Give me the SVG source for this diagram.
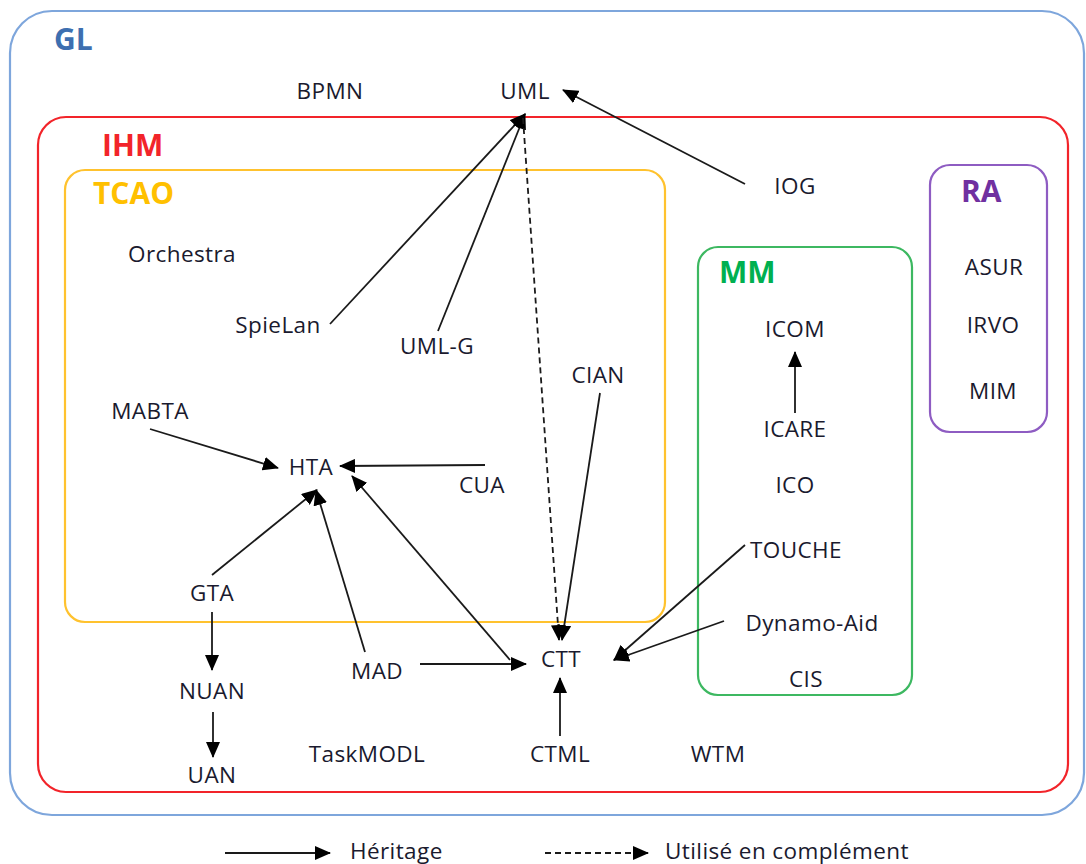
<svg xmlns="http://www.w3.org/2000/svg" width="1086" height="864" viewBox="0 0 1086 864">
<style>
  text { font-family: "Open Sans", "Liberation Sans", sans-serif; font-size: 22.5px; letter-spacing: 0.4px; fill: #1a1a2e; }
  .n { text-anchor: middle; }
  .title { font-weight: bold; font-size: 30px; letter-spacing: 0; }
  .box { fill: none; stroke-width: 2.2; }
  .edge { stroke: #1a1a1a; stroke-width: 1.8; fill: none; marker-end: url(#ah); }
  .dash { stroke-dasharray: 6 4; }
</style>
<defs>
  <marker id="ah" markerUnits="userSpaceOnUse" markerWidth="16" markerHeight="14" refX="15" refY="7" orient="auto">
    <path d="M0,0 L16,7 L0,14 Z" fill="#000"/>
  </marker>
</defs>
<rect width="1086" height="864" fill="#fff"/>

<g id="GL">
  <rect class="box" x="10" y="11" width="1074" height="804" rx="42" stroke="#7EA6DC"/>
  <text class="title" x="54" y="50" style="fill:#3D6FB0">GL</text>
</g>
<g id="IHM">
  <rect class="box" x="38" y="117" width="1030" height="675" rx="28" stroke="#F2242A"/>
  <text class="title" x="102" y="156" style="fill:#F2242A">IHM</text>
</g>
<g id="TCAO">
  <rect class="box" x="65" y="170" width="600" height="452" rx="20" stroke="#FFC22E"/>
  <text class="title" x="93" y="204" style="fill:#FFC000">TCAO</text>
</g>
<g id="MM">
  <rect class="box" x="698" y="247" width="214" height="448" rx="20" stroke="#3DB861"/>
  <text class="title" x="719" y="283" style="fill:#00B050">MM</text>
</g>
<g id="RA">
  <rect class="box" x="930" y="165" width="117" height="267" rx="20" stroke="#8E5CC2"/>
  <text class="title" x="961" y="202" style="fill:#7030A0">RA</text>
</g>

<g id="BPMN"><text class="n" x="330" y="99">BPMN</text></g>
<g id="UML"><text class="n" x="525" y="99">UML</text></g>
<g id="IOG"><text class="n" x="795" y="194">IOG</text></g>
<g id="Orchestra"><text class="n" x="182" y="262">Orchestra</text></g>
<g id="SpieLan"><text class="n" x="278" y="333">SpieLan</text></g>
<g id="UML-G"><text class="n" x="437" y="354">UML-G</text></g>
<g id="CIAN"><text class="n" x="598" y="383">CIAN</text></g>
<g id="MABTA"><text class="n" x="150" y="419">MABTA</text></g>
<g id="HTA"><text class="n" x="311" y="475">HTA</text></g>
<g id="CUA"><text class="n" x="482" y="493">CUA</text></g>
<g id="GTA"><text class="n" x="212" y="601">GTA</text></g>
<g id="NUAN"><text class="n" x="212" y="699">NUAN</text></g>
<g id="UAN"><text class="n" x="212" y="783">UAN</text></g>
<g id="MAD"><text class="n" x="377" y="679">MAD</text></g>
<g id="TaskMODL"><text class="n" x="367" y="762">TaskMODL</text></g>
<g id="CTT"><text class="n" x="561" y="667">CTT</text></g>
<g id="CTML"><text class="n" x="560" y="762">CTML</text></g>
<g id="WTM"><text class="n" x="718" y="762">WTM</text></g>
<g id="ICOM"><text class="n" x="795" y="337">ICOM</text></g>
<g id="ICARE"><text class="n" x="795" y="437">ICARE</text></g>
<g id="ICO"><text class="n" x="795" y="493">ICO</text></g>
<g id="TOUCHE"><text class="n" x="796" y="558">TOUCHE</text></g>
<g id="Dynamo-Aid"><text class="n" x="812" y="631">Dynamo-Aid</text></g>
<g id="CIS"><text class="n" x="806" y="687">CIS</text></g>
<g id="ASUR"><text class="n" x="994" y="275">ASUR</text></g>
<g id="IRVO"><text class="n" x="993" y="333">IRVO</text></g>
<g id="MIM"><text class="n" x="993" y="399">MIM</text></g>

<g id="connectors">
  <line class="edge" x1="330" y1="324" x2="525" y2="114"/>
  <line class="edge" x1="438" y1="331" x2="525" y2="114"/>
  <line class="edge" x1="745" y1="184" x2="563" y2="90"/>
  <line class="edge dash" x1="523" y1="118" x2="559" y2="640"/>
  <line class="edge" x1="600" y1="393" x2="562" y2="640"/>
  <line class="edge" x1="150" y1="429" x2="278" y2="468"/>
  <line class="edge" x1="485" y1="465" x2="340" y2="466"/>
  <line class="edge" x1="212" y1="575" x2="317" y2="490"/>
  <line class="edge" x1="365" y1="652" x2="316" y2="490"/>
  <line class="edge" x1="510" y1="660" x2="352" y2="476"/>
  <line class="edge" x1="420" y1="664" x2="526" y2="664"/>
  <line class="edge" x1="212" y1="612" x2="212" y2="670"/>
  <line class="edge" x1="213" y1="712" x2="213" y2="757"/>
  <line class="edge" x1="560" y1="736" x2="560" y2="678"/>
  <line class="edge" x1="745" y1="545" x2="614" y2="660"/>
  <line class="edge" x1="724" y1="621" x2="614" y2="660"/>
  <line class="edge" x1="795" y1="413" x2="795" y2="352"/>
</g>

<g id="legend">
  <line class="edge" x1="225" y1="853" x2="330" y2="853"/>
  <text x="350" y="859">Héritage</text>
  <line class="edge dash" x1="545" y1="853" x2="648" y2="853"/>
  <text x="665" y="859">Utilisé en complément</text>
</g>
</svg>
